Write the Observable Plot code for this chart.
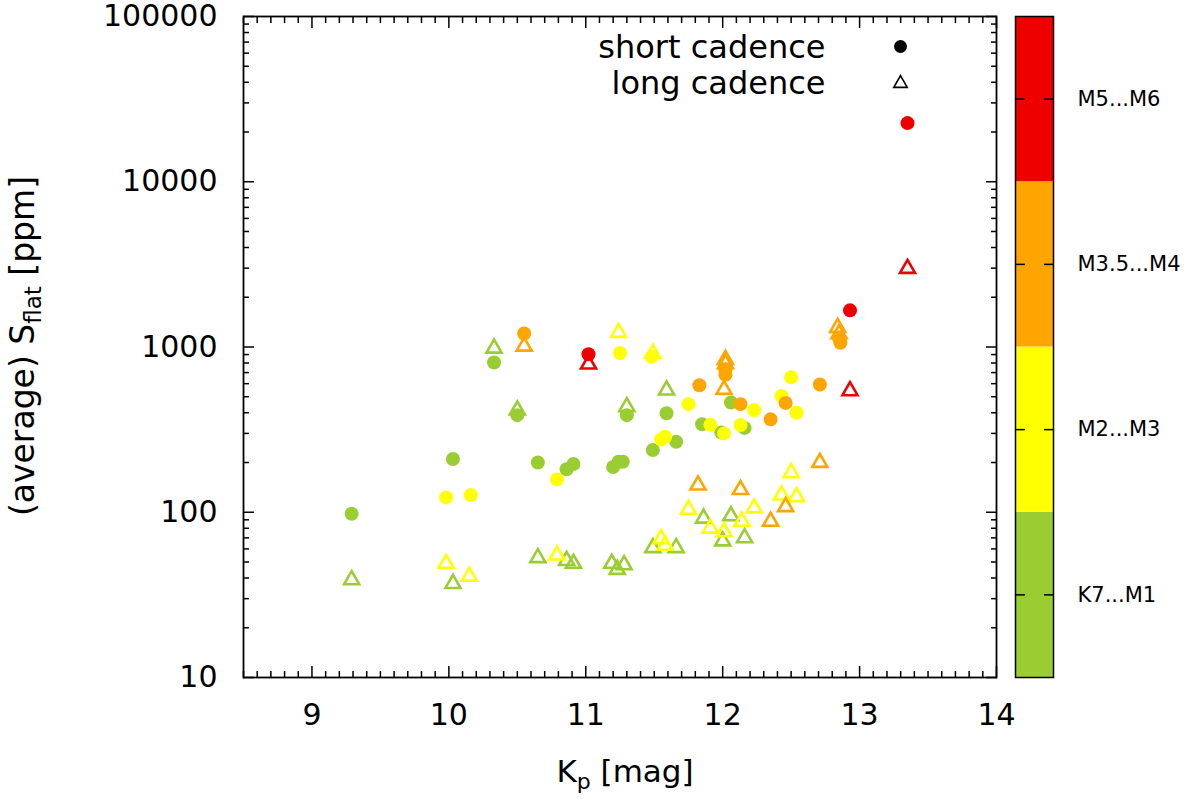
<!DOCTYPE html>
<html>
<head>
<meta charset="utf-8">
<script src="https://cdn.jsdelivr.net/npm/d3@7"></script>
<script src="https://cdn.jsdelivr.net/npm/@observablehq/plot@0.6"></script>
<style>
  body { margin: 0; background: #fff; }
  #chart { position: relative; width: 1200px; height: 799px; }
  #chart svg { position: absolute; top: 0; overflow: visible; }
</style>
</head>
<body>
<div id="chart"></div>
<script>
// spectral class bins of the colour bar
const classes = ["K7...M1", "M2...M3", "M3.5...M4", "M5...M6"];
const classColors = ["#9acd32", "#ffff00", "#ffa500", "#ee0000"];
const classLow = [10, 100, 1000, 10000];
const classHigh = [100, 1000, 10000, 100000];

// short cadence: Kp [mag], S_flat [ppm], class index
const shortKp = [9.29, 9.98, 10.16, 10.03, 10.33, 10.50, 10.55, 10.65, 10.79, 10.86, 10.91, 11.02,
  11.20, 11.24, 11.27, 11.25, 11.30, 11.48, 11.49, 11.55, 11.58, 11.59, 11.66, 11.75, 11.83,
  11.85, 11.91, 11.99, 12.01, 12.02, 12.02, 12.06, 12.13, 12.13, 12.16, 12.23, 12.35, 12.43,
  12.46, 12.50, 12.54, 12.71, 12.85, 12.86, 12.93, 13.35];
const shortS = [98, 123, 127, 210, 806, 387, 1207, 200, 158, 182, 196, 904,
  188, 202, 202, 920, 387, 872, 238, 276, 286, 397, 267, 451, 587,
  341, 338, 304, 300, 730, 680, 461, 451, 337, 324, 415, 365, 505,
  459, 655, 400, 593, 1130, 1060, 1667, 22650];
const shortCls = [0, 1, 1, 0, 0, 0, 2, 0, 1, 0, 0, 3,
  0, 0, 0, 1, 0, 1, 0, 1, 1, 0, 0, 1, 2,
  0, 1, 0, 1, 2, 2, 0, 2, 1, 0, 1, 2, 1,
  2, 1, 1, 2, 2, 2, 3, 3];

// long cadence
const longKp = [9.29, 9.98, 10.03, 10.15, 10.33, 10.50, 10.55, 10.65, 10.79, 10.86, 10.91, 11.02,
  11.19, 11.23, 11.28, 11.24, 11.30, 11.49, 11.49, 11.55, 11.58, 11.59, 11.66, 11.75, 11.82,
  11.86, 11.91, 12.00, 12.01, 12.01, 12.02, 12.02, 12.06, 12.13, 12.14, 12.16, 12.23, 12.35,
  12.43, 12.46, 12.50, 12.54, 12.71, 12.84, 12.85, 12.93, 13.35];
const longS = [39, 49, 37, 41, 983, 415, 1010, 53, 55, 51, 49, 787,
  49, 45, 48, 1224, 435, 914, 61, 69, 63, 548, 61, 104, 146,
  92, 80, 67, 553, 76, 840, 790, 95, 137, 88, 70, 106, 88,
  127, 108, 173, 124, 200, 1312, 1200, 543, 2986];
const longCls = [0, 1, 0, 1, 0, 0, 2, 0, 1, 0, 0, 3,
  0, 0, 0, 1, 0, 1, 0, 1, 1, 0, 0, 1, 2,
  0, 1, 0, 2, 1, 2, 2, 0, 2, 1, 0, 1, 2,
  1, 2, 1, 1, 2, 2, 2, 3, 3];

const xTicks = [9, 10, 11, 12, 13, 14];
const yTicks = [10, 100, 1000, 10000, 100000];

const font = "'DejaVu Sans', sans-serif";

const toRows = (kp, s, cls) =>
  d3.sort(kp.map((k, i) => ({kp: k, s: s[i], cls: classes[cls[i]], ci: cls[i]})), (d) => d.ci);
const shortRows = toRows(shortKp, shortS, shortCls);
const longRows = toRows(longKp, longS, longCls);

// minor ticks
const xMinor = d3.range(85, 141).map((i) => i / 10).filter((v) => !xTicks.includes(v));
const yMinor = yTicks.slice(0, -1).flatMap((d) => d3.range(2, 10).map((m) => m * d));

const color = {domain: classes, range: classColors};

const main = Plot.plot({
  width: 1030,
  height: 799,
  marginLeft: 243,
  marginRight: 34,
  marginTop: 16,
  marginBottom: 122,
  style: {fontFamily: font, fontSize: "30px", background: "transparent", color: "black"},
  x: {domain: [8.5, 14]},
  y: {type: "log", domain: [10, 100000]},
  color,
  marks: [
    // labels
    Plot.axisX(xTicks, {tickSize: 0, tickPadding: 26, tickFormat: (d) => String(d), label: null}),
    Plot.axisY(yTicks, {tickSize: 0, tickPadding: 26, tickFormat: (d) => String(d), label: null}),
    // inward ticks on all four sides
    Plot.axisX(xTicks, {anchor: "bottom", tickSize: -11, fill: "none", strokeWidth: 1.5}),
    Plot.axisX(xTicks, {anchor: "top", tickSize: -11, fill: "none", strokeWidth: 1.5}),
    Plot.axisX(xMinor, {anchor: "bottom", tickSize: -6, fill: "none", strokeWidth: 1.5}),
    Plot.axisX(xMinor, {anchor: "top", tickSize: -6, fill: "none", strokeWidth: 1.5}),
    Plot.axisY(yTicks, {anchor: "left", tickSize: -11, fill: "none", strokeWidth: 1.5}),
    Plot.axisY(yTicks, {anchor: "right", tickSize: -11, fill: "none", strokeWidth: 1.5}),
    Plot.axisY(yMinor, {anchor: "left", tickSize: -6, fill: "none", strokeWidth: 1.5}),
    Plot.axisY(yMinor, {anchor: "right", tickSize: -6, fill: "none", strokeWidth: 1.5}),
    Plot.frame({stroke: "black", strokeWidth: 1.8}),
    // data
    Plot.dot(longRows, {x: "kp", y: "s", symbol: "triangle", r: 5.6, stroke: "cls", fill: "none", strokeWidth: 2.6}),
    Plot.dot(shortRows, {x: "kp", y: "s", r: 7, fill: "cls", stroke: "none"}),
    // key
    Plot.text(["short cadence"], {text: (d) => d, frameAnchor: "top-right", dx: -171, dy: 31, textAnchor: "end", lineAnchor: "middle", fontSize: 32}),
    Plot.text(["long cadence"], {text: (d) => d, frameAnchor: "top-right", dx: -171, dy: 67, textAnchor: "end", lineAnchor: "middle", fontSize: 32}),
    Plot.dot(["short cadence"], {frameAnchor: "top-right", dx: -96, dy: 30, r: 6.5, fill: "black"}),
    Plot.dot(["long cadence"], {frameAnchor: "top-right", dx: -96, dy: 67, r: 5, symbol: "triangle", stroke: "black", fill: "none", strokeWidth: 1.6})
  ]
});

// axis titles with subscripts
const svgMain = d3.select(main);
const xt = svgMain.append("text")
  .attr("x", 625).attr("y", 782)
  .attr("text-anchor", "middle")
  .style("font-family", font).style("font-size", "31px").attr("fill", "black");
xt.append("tspan").text("K");
xt.append("tspan").attr("dy", 7).style("font-size", "22px").text("p");
xt.append("tspan").attr("dy", -7).text(" [mag]");

const yt = svgMain.append("text")
  .attr("transform", "translate(34,346) rotate(-90)")
  .attr("text-anchor", "middle")
  .style("font-family", font).style("font-size", "33px").attr("fill", "black");
yt.append("tspan").text("(average) S");
yt.append("tspan").attr("dy", 7).style("font-size", "23px").text("flat");
yt.append("tspan").attr("dy", -7).text(" [ppm]");

// colour bar
const bands = classes.map((c, i) => ({cls: c, lo: classLow[i], hi: classHigh[i], mid: Math.sqrt(classLow[i] * classHigh[i])}));
const mids = bands.map((d) => d.mid);

const bar = Plot.plot({
  width: 190,
  height: 799,
  marginLeft: 5,
  marginRight: 147,
  marginTop: 16,
  marginBottom: 122,
  style: {fontFamily: font, fontSize: "21px", background: "transparent", color: "black"},
  y: {type: "log", domain: [10, 100000], axis: null},
  color,
  marks: [
    Plot.rect(bands, {y1: "lo", y2: "hi", fill: "cls"}),
    Plot.axisY(mids, {anchor: "left", tickSize: -10, fill: "none", strokeWidth: 1.5}),
    Plot.axisY(mids, {anchor: "right", tickSize: -10, fill: "none", strokeWidth: 1.5}),
    Plot.axisY(mids, {anchor: "right", tickSize: 0, tickPadding: 24, tickFormat: (d) => bands[mids.indexOf(d)].cls, label: null}),
    Plot.frame({stroke: "black", strokeWidth: 1.5})
  ]
});
bar.style.left = "1010px";

const chart = document.getElementById("chart");
chart.appendChild(main);
chart.appendChild(bar);
</script>
</body>
</html>
